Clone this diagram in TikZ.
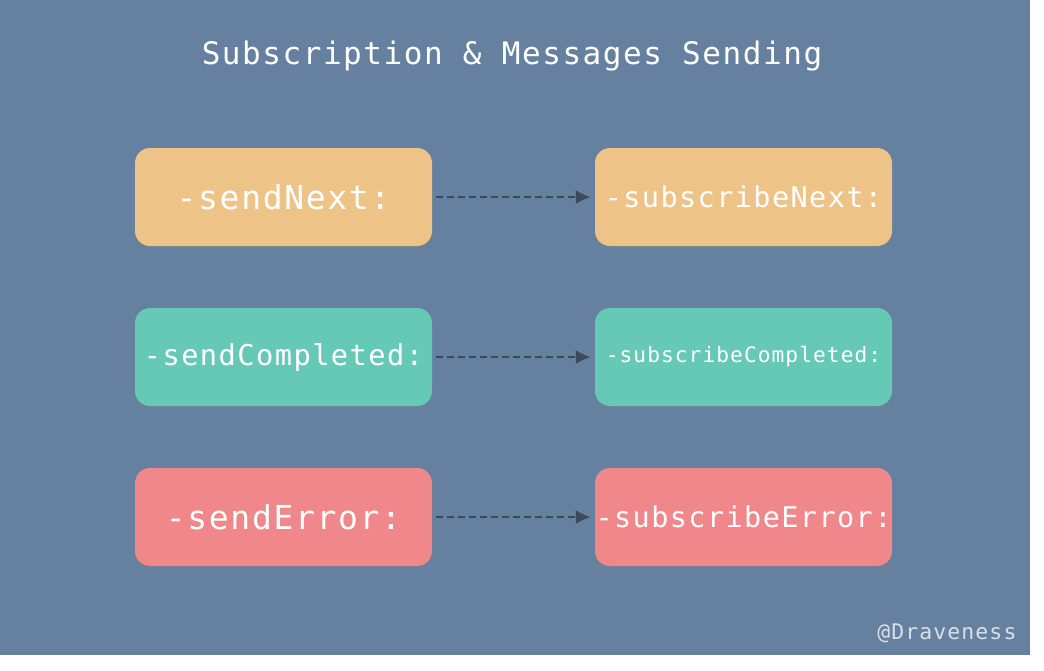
\documentclass[tikz,border=0pt]{standalone}
\usepackage{fontspec}
\usepackage{tikz}
\usetikzlibrary{arrows.meta}
\tikzset{>={Latex[length=15pt, width=14pt]}}
\usetikzlibrary{shadows}
\newfontfamily\codefont[LetterSpace=5]{DejaVu Sans Mono}
\definecolor{backdrop}{HTML}{6680A0}
\definecolor{nextorange}{HTML}{EEC387}
\definecolor{completedteal}{HTML}{66C9B6}
\definecolor{errorred}{HTML}{EF878B}
\definecolor{arrowslate}{HTML}{3C4A5E}
\tikzset{
    msgbox/.style={rounded corners=15pt, minimum width=297pt, minimum height=98pt, inner sep=0pt, text=white,
        drop shadow={opacity=0.25, shadow xshift=0pt, shadow yshift=-2pt}},
    msgarrow/.style={->, arrowslate, line width=2.5pt, dash pattern=on 7pt off 4pt},
}

\begin{document}
\begin{tikzpicture}[x=1pt, y=-1pt]
            \useasboundingbox (0, 0) rectangle (1044, 670);
            \fill[backdrop] (0, 0) rectangle (1030, 655);
            \node[text=white] (title) at (512, 56) {\codefont\fontsize{31}{35}\selectfont Subscription \& Messages Sending};
            \node[msgbox, fill=nextorange] (sendnext) at (283.5, 197) {\codefont\fontsize{33}{37}\selectfont -sendNext:};
            \node[msgbox, fill=nextorange] (subnext) at (743.5, 197) {\codefont\fontsize{28.5}{32}\selectfont -subscribeNext:};
            \node[msgbox, fill=completedteal] (sendcompleted) at (283.5, 357) {\codefont\fontsize{28.7}{32}\selectfont -sendCompleted:};
            \node[msgbox, fill=completedteal] (subcompleted) at (743.5, 357) {\codefont\fontsize{21.2}{25}\selectfont -subscribeCompleted:};
            \node[msgbox, fill=errorred] (senderror) at (283.5, 517) {\codefont\fontsize{33}{37}\selectfont -sendError:};
            \node[msgbox, fill=errorred] (suberror) at (743.5, 517) {\codefont\fontsize{28.5}{32}\selectfont -subscribeError:};
            \draw[msgarrow] ([xshift=4pt]sendnext.east) -- ([xshift=-4pt]subnext.west);
            \draw[msgarrow] ([xshift=4pt]sendcompleted.east) -- ([xshift=-4pt]subcompleted.west);
            \draw[msgarrow] ([xshift=4pt]senderror.east) -- ([xshift=-4pt]suberror.west);
            \node[text=white, opacity=0.75, anchor=east] (signature) at (1020, 633) {\codefont\fontsize{21.5}{25}\selectfont @Draveness};
        \end{tikzpicture}
\end{document}
